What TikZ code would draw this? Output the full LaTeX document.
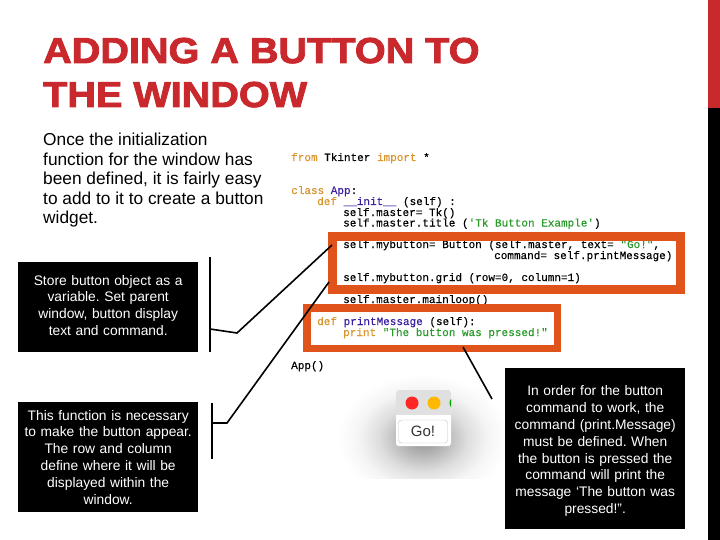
\documentclass[tikz,border=0pt]{standalone}
\usepackage{fontspec}
\setmainfont{Liberation Sans}
\setmonofont[FakeBold=0.25]{Liberation Mono}
\newfontfamily\titlefont[FakeBold=2.4,FakeStretch=1.1]{Liberation Sans Bold}
\definecolor{oranger}{HTML}{E0541B}
\definecolor{titlered}{HTML}{C9282D}
\definecolor{kw}{HTML}{D9952F}
\definecolor{fn}{HTML}{3A1FA0}
\definecolor{str}{HTML}{2A9A2A}
\definecolor{barred}{HTML}{C9282D}
\pgfdeclareradialshading{softshadow}{\pgfpoint{0bp}{0bp}}{color(0bp)=(black!40);color(4bp)=(black!35);color(13bp)=(black!13);color(19bp)=(black!4);color(25bp)=(white);color(50bp)=(white)}
\tikzset{
  blackbox/.style={fill=black,text=white,inner sep=4pt,align=center,font=\fontsize{13.8}{16.8}\selectfont,minimum width=180pt,text width=172pt,anchor=north west},
  codeline/.style={anchor=base west,inner sep=0,font=\ttfamily\fontsize{11}{11}\selectfont},
  wire/.style={draw=black,line width=1.6pt},
  hl/.style={draw=oranger,line width=9pt},
  titletext/.style={anchor=base west,inner sep=0,text=titlered,font=\titlefont\fontsize{36}{36}\selectfont}
}
\frenchspacing
\begin{document}
\begin{tikzpicture}[x=1pt,y=-1pt]
\useasboundingbox (0,0) rectangle (720,540);
\fill[white] (0,0) rectangle (720,540);
\fill[barred] (708,0) rectangle (720,108);
\fill[black] (708,108) rectangle (720,540);
\node[titletext] (t1) at (43,63) {ADDING A BUTTON TO};
\node[titletext] (t2) at (43,107) {THE WINDOW};
\node[anchor=north west,inner sep=0,align=left,font=\fontsize{17.3}{19.5}\selectfont] (intro) at (43,133) {Once the initialization\\function for the window has\\been defined, it is fairly easy\\to add to it to create a button\\widget.};
% shadow
\begin{scope}
\clip (340,360) rectangle (505,478);
\shade[shading=softshadow] (423,438) ellipse [x radius=85,y radius=64];
\end{scope}
\fill[white,rounded corners=3pt] (396,390) -- (451,390) -- (451,446) -- (396,446) -- cycle;
% code
\node[codeline] (c1) at (291,161) {\textcolor{kw}{from} Tkinter \textcolor{kw}{import} *};
\node[codeline] (c2) at (291,194) {\textcolor{kw}{class} \textcolor{fn}{App}:};
\node[codeline] (c3) at (317,205) {\textcolor{kw}{def} \textcolor{fn}{\_\_init\_\_} (self) :};
\node[codeline] (c4) at (343,216) {self.master= Tk()};
\node[codeline] (c5) at (343,226.5) {self.master.title (\textcolor{str}{'Tk Button Example'})};
\node[codeline] (c6) at (343,248) {self.mybutton= Button (self.master, text= \textcolor{str}{"Go!"},};
\node[codeline] (c7) at (494,259) {command= self.printMessage)};
\node[codeline] (c8) at (343,281) {self.mybutton.grid (row=0, column=1)};
\node[codeline] (c9) at (343,303) {self.master.mainloop()};
\node[codeline] (c10) at (317,325) {\textcolor{kw}{def} \textcolor{fn}{printMessage} (self):};
\node[codeline] (c11) at (343,336) {\textcolor{kw}{print} \textcolor{str}{"The button was pressed!"}};
\node[codeline] (c12) at (291,369) {App()};
% highlights
\draw[hl] (332,236) rectangle (680,289);
\coordinate (h1a) at (332,245);
\coordinate (h1b) at (329,282);
\draw[draw=oranger,line width=7.5pt] (307,308) rectangle (557.5,348.5);
\coordinate (h2a) at (463,347);
% window
\begin{scope}
\clip[rounded corners=3pt] (396,446) -- (396,390) -- (451,390) -- (451,446) -- cycle;
\fill[white] (396,390) rectangle (451,446);
\fill[black!12] (396,390) rectangle (451,415);
\fill[red!80!pink] (412,403) circle (6.5);
\fill[orange!55!yellow] (434,403) circle (6.5);
\fill[green!65!black] (456,403) circle (6.5);
\end{scope}
\node[draw=black!25,rounded corners=3pt,fill=white,minimum width=49pt,minimum height=23pt,inner sep=0,font=\fontsize{15}{15}\selectfont,text=black!80] (go) at (423,431.5) {Go!};
% boxes
\node[blackbox,minimum height=90pt] (b1) at (18,262) {Store button object as a\\variable. Set parent\\window, button display\\text and command.\\[-13pt]\mbox{}};
\node[blackbox,minimum height=110pt] (b2) at (18,402) {This function is necessary\\to make the button appear.\\The row and column\\define where it will be\\displayed within the\\window.};
\node[blackbox,minimum height=161pt] (b3) at (505,368) {\rule{0pt}{15pt}In order for the button\\command to work, the\\command (print.Message)\\must be defined. When\\the button is pressed the\\command will print the\\message ‘The button was\\pressed!”.};
% connectors
\coordinate (k1t) at (210,257); \coordinate (k1b) at (210,352); \coordinate (k1m) at (210,329); \coordinate (k1e) at (237,333);
\draw[wire] (k1t) -- (k1b);
\draw[wire] (k1m) -- (k1e) -- (h1a);
\coordinate (k2t) at (212,403); \coordinate (k2b) at (212,459); \coordinate (k2m) at (212,423); \coordinate (k2e) at (227,423);
\draw[wire] (k2t) -- (k2b);
\draw[wire] (k2m) -- (k2e) -- (h1b);
\coordinate (k3) at (492,399);
\draw[wire] (h2a) -- (k3);
\end{tikzpicture}
\end{document}
